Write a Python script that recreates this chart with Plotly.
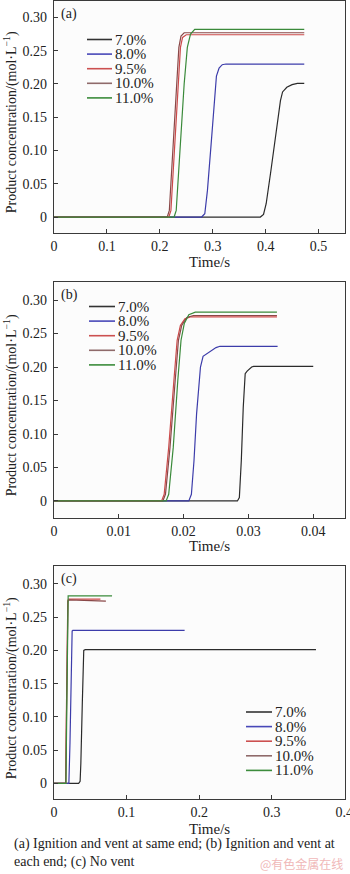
import plotly.graph_objects as go

# Methane concentration series and their line colours
series_names = ["7.0%", "8.0%", "9.5%", "10.0%", "11.0%"]
series_colors = ["#2b2b2b", "#3c3caa", "#cc4a4a", "#8a4848", "#3a8a3a"]
legend_colors = ["#333333", "#4848b8", "#cc5050", "#8f6a6a", "#3c8c3c"]

# (a) Ignition and vent at same end: time (s) and product concentration (mol/L)
a_t = [
    [0, 0.39, 0.396, 0.401, 0.41, 0.42, 0.428, 0.432, 0.44, 0.45, 0.46, 0.473],
    [0, 0.279, 0.285, 0.29, 0.297, 0.303, 0.307, 0.312, 0.318, 0.325, 0.473],
    [0, 0.217, 0.221, 0.228, 0.235, 0.239, 0.243, 0.25, 0.473],
    [0, 0.214, 0.218, 0.225, 0.232, 0.236, 0.240, 0.246, 0.473],
    [0, 0.227, 0.231, 0.238, 0.246, 0.252, 0.258, 0.266, 0.473],
]
a_c = [
    [0, 0, 0.004, 0.02, 0.07, 0.13, 0.175, 0.188, 0.195, 0.199, 0.201, 0.201],
    [0, 0, 0.005, 0.04, 0.11, 0.18, 0.212, 0.224, 0.229, 0.230, 0.230],
    [0, 0, 0.01, 0.10, 0.20, 0.255, 0.270, 0.274, 0.274],
    [0, 0, 0.01, 0.10, 0.20, 0.255, 0.272, 0.277, 0.277],
    [0, 0, 0.01, 0.10, 0.20, 0.255, 0.275, 0.282, 0.282],
]

# (b) Ignition and vent at each end
b_t = [
    [0, 0.0283, 0.0286, 0.0289, 0.0292, 0.0295, 0.0298, 0.0305, 0.0308, 0.0400],
    [0, 0.0208, 0.0212, 0.0216, 0.0220, 0.0226, 0.0230, 0.0240, 0.0250, 0.0256, 0.0345],
    [0, 0.0166, 0.0170, 0.0177, 0.0185, 0.0190, 0.0195, 0.0202, 0.0210, 0.0344],
    [0, 0.0168, 0.0172, 0.0179, 0.0187, 0.0192, 0.0197, 0.0205, 0.0215, 0.0344],
    [0, 0.0173, 0.0177, 0.0184, 0.0191, 0.0196, 0.0201, 0.0208, 0.0218, 0.0344],
]
b_c = [
    [0, 0, 0.005, 0.06, 0.14, 0.19, 0.194, 0.200, 0.201, 0.201],
    [0, 0, 0.01, 0.06, 0.13, 0.20, 0.216, 0.223, 0.229, 0.231, 0.231],
    [0, 0, 0.01, 0.08, 0.18, 0.24, 0.262, 0.272, 0.275, 0.275],
    [0, 0, 0.01, 0.08, 0.18, 0.24, 0.262, 0.274, 0.277, 0.277],
    [0, 0, 0.01, 0.08, 0.18, 0.24, 0.265, 0.278, 0.282, 0.282],
]

# (c) No vent
c_t = [
    [0, 0.034, 0.036, 0.037, 0.039, 0.041, 0.043, 0.361],
    [0, 0.0205, 0.022, 0.0235, 0.025, 0.026, 0.180],
    [0, 0.016, 0.017, 0.018, 0.019, 0.020, 0.064],
    [0, 0.0162, 0.0172, 0.0182, 0.0192, 0.021, 0.0715],
    [0, 0.0165, 0.0175, 0.0185, 0.0195, 0.080],
]
c_c = [
    [0, 0, 0.003, 0.03, 0.12, 0.20, 0.201, 0.201],
    [0, 0, 0.06, 0.15, 0.229, 0.230, 0.230],
    [0, 0, 0.10, 0.24, 0.275, 0.277, 0.277],
    [0, 0, 0.10, 0.24, 0.274, 0.276, 0.274],
    [0, 0, 0.10, 0.25, 0.282, 0.282],
]

y_tickvals = [0, 0.05, 0.10, 0.15, 0.20, 0.25, 0.30]
y_ticktext = ["0", "0.05", "0.10", "0.15", "0.20", "0.25", "0.30"]
a_xticks = [0, 0.1, 0.2, 0.3, 0.4, 0.5]
b_xticks = [0, 0.01, 0.02, 0.03, 0.04]
c_xticks = [0, 0.1, 0.2, 0.3, 0.4]

panel_labels = ["(a)", "(b)", "(c)"]
caption = ("(a) Ignition and vent at same end; (b) Ignition and vent at<br>"
           "each end; (c) No vent")
x_title = "Time/s"
y_title = "Product concentration/(mol·L<sup>−1</sup>)"

W, H = 350, 874
FONT = "Liberation Serif, Times New Roman, serif"
INK = "#222222"

# pixel layout of each panel: (top, bottom) and axis ranges
panels = [
    dict(t=a_t, c=a_c, xticks=a_xticks, xr=[0, 0.55], yr=[-0.024, 0.3255],
         top=0.5, bottom=233, leg_x=(87, 112), leg_y0=39.5, title_y=262),
    dict(t=b_t, c=b_c, xticks=b_xticks, xr=[0, 0.0449], yr=[-0.025, 0.327],
         top=282, bottom=517.7, leg_x=(89, 115), leg_y0=306.5, title_y=546),
    dict(t=c_t, c=c_c, xticks=c_xticks, xr=[0, 0.401], yr=[-0.0241, 0.327],
         top=566, bottom=799.3, leg_x=(246, 272), leg_y0=712, title_y=829),
]
LEFT, RIGHT = 54, 345
LEG_STEP = 14.6

fig = go.Figure()
shapes, annotations = [], []


def px_x(v):
    return v / W


def px_y(v):
    return 1 - v / H


for i, p in enumerate(panels):
    sfx = "" if i == 0 else str(i + 1)
    for k, name in enumerate(series_names):
        fig.add_trace(go.Scatter(
            x=p["t"][k], y=p["c"][k], mode="lines", name=name,
            line=dict(color=series_colors[k], width=1.2),
            xaxis="x" + sfx, yaxis="y" + sfx, showlegend=False,
            hoverinfo="skip"))
    axis_common = dict(showline=True, linecolor="#3a3a3a", linewidth=1.3,
                       mirror=True, ticks="inside", ticklen=4,
                       tickcolor="#3a3a3a", showgrid=False, zeroline=False,
                       automargin=False,
                       tickfont=dict(family=FONT, size=14, color=INK))
    fig.update_layout(**{
        "xaxis" + sfx: dict(axis_common, domain=[px_x(LEFT), px_x(RIGHT)],
                            range=p["xr"], anchor="y" + sfx,
                            tickvals=p["xticks"], ticklabeloverflow="allow",
                            ticktext=[("%g" % v) for v in p["xticks"]]),
        "yaxis" + sfx: dict(axis_common,
                            domain=[px_y(p["bottom"]), px_y(p["top"])],
                            range=p["yr"], anchor="x" + sfx,
                            tickvals=y_tickvals, ticktext=y_ticktext,
                            ticklabelstandoff=3),
    })
    # panel tag
    annotations.append(dict(text=panel_labels[i], x=px_x(59),
                            y=px_y(p["top"] + 13),
                            xref="paper", yref="paper", xanchor="left",
                            yanchor="middle", showarrow=False,
                            font=dict(family=FONT, size=14, color=INK)))
    # time axis title, set slightly right of the axis centre
    annotations.append(dict(text=x_title, x=px_x(209), y=px_y(p["title_y"]),
                            xref="paper", yref="paper", xanchor="center",
                            yanchor="middle", showarrow=False,
                            font=dict(family=FONT, size=15, color=INK)))
    # concentration axis title
    annotations.append(dict(text=y_title, x=px_x(10.5),
                            y=px_y((p["top"] + p["bottom"]) / 2 + 6),
                            xref="paper", yref="paper", xanchor="center",
                            yanchor="middle", textangle=-90, showarrow=False,
                            font=dict(family=FONT, size=14, color=INK)))
    # legend block
    x0, x1 = p["leg_x"]
    for k, name in enumerate(series_names):
        yy = p["leg_y0"] + k * LEG_STEP
        shapes.append(dict(type="line", xref="paper", yref="paper",
                           x0=px_x(x0), x1=px_x(x1), y0=px_y(yy), y1=px_y(yy),
                           line=dict(color=legend_colors[k], width=1.6)))
        annotations.append(dict(text=name, x=px_x(x1 + 1), y=px_y(yy),
                                xref="paper", yref="paper", xanchor="left",
                                yanchor="middle", showarrow=False,
                                font=dict(family=FONT, size=15, color=INK)))

annotations.append(dict(text=caption, x=px_x(12), y=px_y(834), xref="paper",
                        yref="paper", xanchor="left", yanchor="top",
                        align="left", showarrow=False,
                        font=dict(family=FONT, size=14, color=INK)))
annotations.append(dict(text="@有色金属在线", x=px_x(345), y=px_y(863),
                        xref="paper", yref="paper", xanchor="right",
                        yanchor="middle", showarrow=False,
                        font=dict(family="Noto Sans CJK SC", size=12,
                                  color="#f0b8b8")))

fig.update_layout(width=W, height=H, margin=dict(l=0, r=0, t=0, b=0),
                  paper_bgcolor="#ffffff", plot_bgcolor="#fcfcfc",
                  showlegend=False, shapes=shapes, annotations=annotations)

fig.write_html("out.html", config={"displayModeBar": False})
